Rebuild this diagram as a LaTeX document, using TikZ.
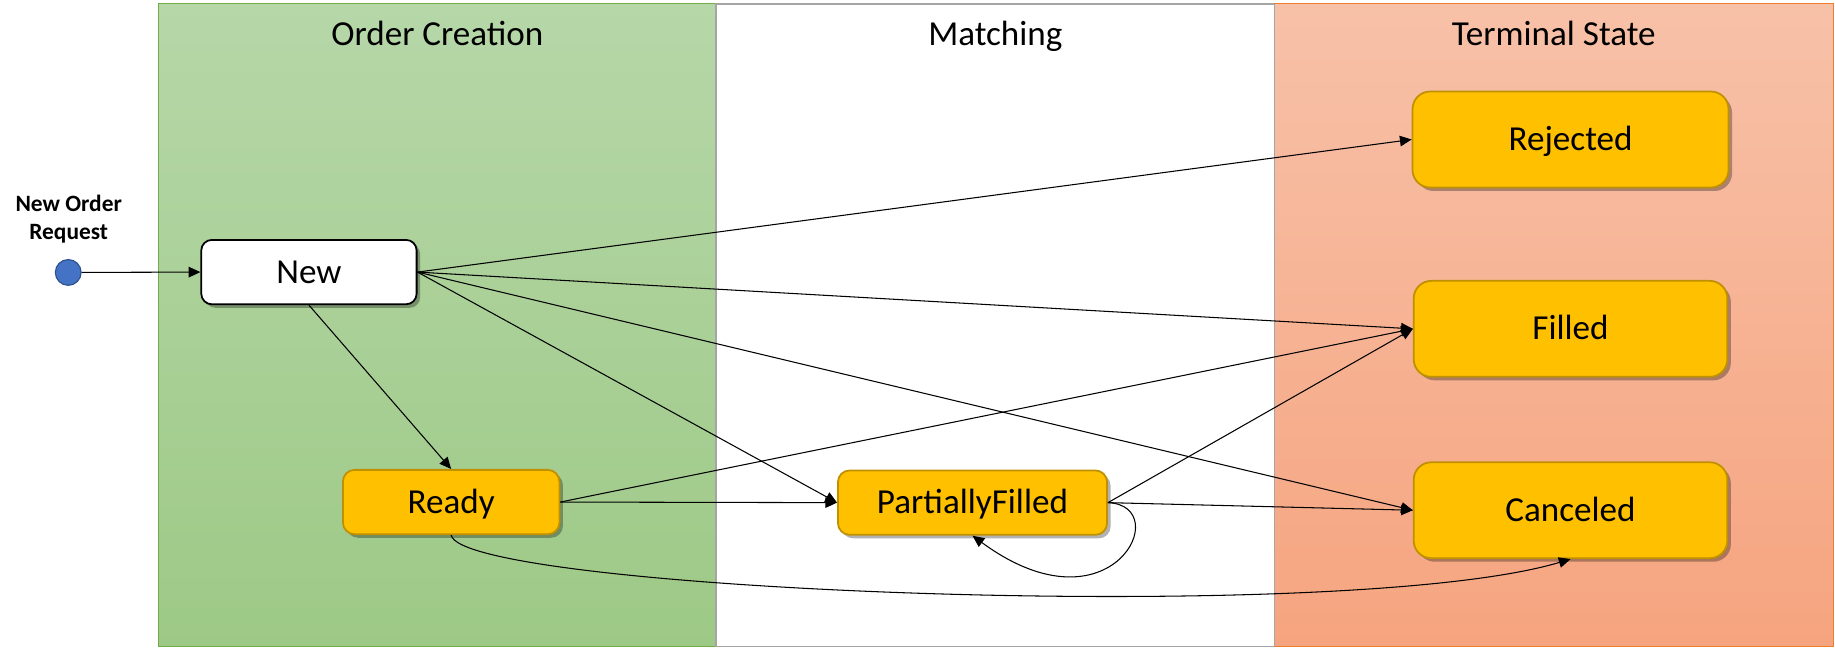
\documentclass[tikz,border=0pt]{standalone}
\usepackage{fontspec}
\setmainfont{Carlito}
\usetikzlibrary{arrows.meta,shadows}
\definecolor{greenTop}{HTML}{B6D7A8}
\definecolor{greenBot}{HTML}{9DC986}
\definecolor{greenLine}{HTML}{70AD47}
\definecolor{orangeTop}{HTML}{F7C1A8}
\definecolor{orangeBot}{HTML}{F6A47F}
\definecolor{orangeLine}{HTML}{ED7D31}
\definecolor{grayLine}{HTML}{A5A5A5}
\definecolor{boxFill}{HTML}{FFC000}
\definecolor{boxLine}{HTML}{BF9000}
\definecolor{initFill}{HTML}{4472C4}
\definecolor{initLine}{HTML}{2F528F}
\begin{document}
\begin{tikzpicture}[x=1pt,y=-1pt,
  lanetitle/.style={anchor=base, inner sep=0pt, font=\fontsize{30}{36}\selectfont},
  statebox/.style={rectangle, rounded corners=10pt, inner sep=0pt,
    fill=boxFill, draw=boxLine, line width=1.5pt,
    font=\fontsize{30}{36}\selectfont, text height=19pt, text depth=0pt,
    drop shadow={shadow xshift=3pt, shadow yshift=-3pt, fill=black, opacity=0.3}},
  bigbox/.style={statebox, rounded corners=15pt, minimum width=268pt, minimum height=82pt},
  smallbox/.style={statebox, minimum height=55pt},
  conn/.style={draw=black, line width=0.9pt, -{Triangle[length=10pt,width=9pt]}}
]
\useasboundingbox (0,0) rectangle (1568,553.7);
% lanes
\shade[top color=greenTop, bottom color=greenBot] (135.5,3.3) rectangle (612,552.6);
\draw[greenLine, line width=1pt] (135.5,3.3) rectangle (612,552.6);
\fill[white] (612,3.3) rectangle (1089,552.6);
\draw[grayLine, line width=1.3pt] (612,3.3) rectangle (1089,552.6);
\shade[top color=orangeTop, bottom color=orangeBot] (1089,3.3) rectangle (1566.5,552.6);
\draw[orangeLine, line width=1pt] (1089,3.3) rectangle (1566.5,552.6);
\draw[grayLine, line width=1.3pt] (1089,3.3) -- (1089,552.6);
% lane titles
\node[lanetitle] (t1) at (373.7,38.5) {Order Creation};
\node[lanetitle] (t2) at (850.5,38.5) {Matching};
\node[lanetitle] (t3) at (1327.7,38.5) {Terminal State};
% initial
\node[circle, fill=initFill, draw=initLine, line width=1pt, minimum size=22pt, inner sep=0pt] (init) at (58.3,232.8) {};
\node[align=center, inner sep=0pt, font=\fontsize{20}{24.2}\selectfont\bfseries] (initlbl) at (58.7,187) {New Order\\Request};
% states
\node[smallbox, fill=white, draw=black, rounded corners=9pt, minimum width=184pt] (new) at (264,232.5) {New};
\node[smallbox, minimum width=185pt] (ready) at (385.5,429) {Ready};
\node[smallbox, minimum width=230pt] (pf) at (831,429.5) {PartiallyFilled};
\node[bigbox, minimum width=270pt] (rej) at (1342,119.2) {Rejected};
\node[bigbox] (fil) at (1342,281) {Filled};
\node[bigbox] (can) at (1342,436) {Canceled};
% connectors
\draw[conn] (init) -- (new.west);
\draw[conn] (new.east) -- (rej.west);
\draw[conn] (new.east) -- (fil.west);
\draw[conn] (new.east) -- (pf.west);
\draw[conn] (new.east) -- (can.west);
\draw[conn] (new.south) -- (ready.north);
\draw[conn] (ready.east) -- (fil.west);
\draw[conn] (ready.east) -- (pf.west);
\draw[conn] (ready.south) .. controls (395,505) and (1150,535) .. (can.south);
\draw[conn] (pf.east) -- (fil.west);
\draw[conn] (pf.east) -- (can.west);
\draw[conn] (pf.east) .. controls (1005,432) and (950,545) .. (pf.south);
\end{tikzpicture}
\end{document}
